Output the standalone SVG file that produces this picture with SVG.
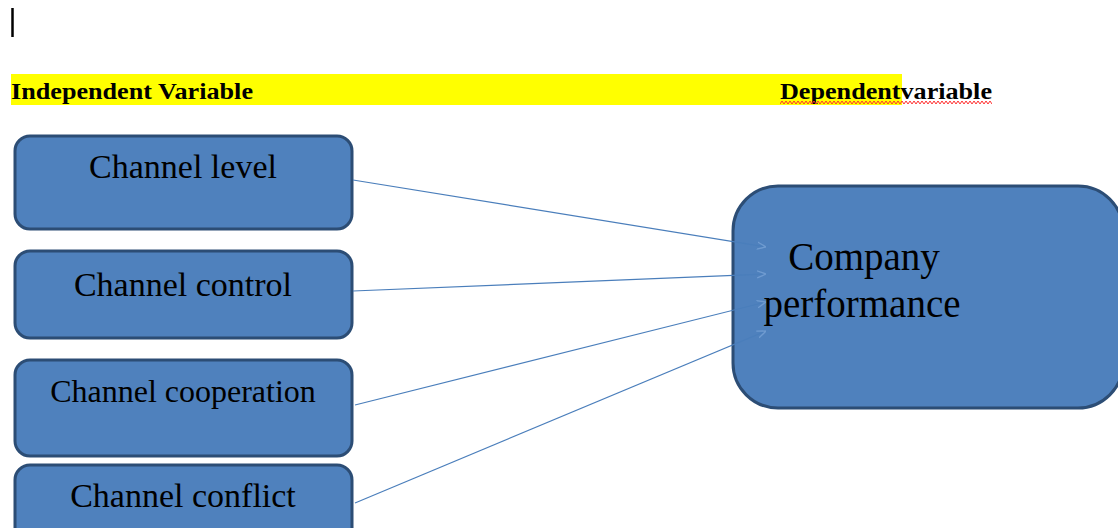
<svg xmlns="http://www.w3.org/2000/svg" width="1118" height="528" viewBox="0 0 1118 528">
<defs>
<style>
.box{fill:#4f81bd;stroke:#2c4d75;stroke-width:3}
.lbl{font-family:'Liberation Serif','Times New Roman',serif;fill:#000;text-anchor:middle}
.hdr{font-family:'Liberation Serif','Times New Roman',serif;font-weight:bold;font-size:23px;fill:#000}
.conn{stroke:#4a7ebb;stroke-width:1.2;fill:none}
</style>
<pattern id="wave" x="780" y="100" width="4" height="5" patternUnits="userSpaceOnUse">
<polyline points="0,4 2,1 4,4" fill="none" stroke="#ff3030" stroke-width="1"/>
</pattern>
<marker id="arr" viewBox="0 0 10 10" refX="10" refY="5" markerWidth="9" markerHeight="9" markerUnits="userSpaceOnUse" orient="auto">
<path d="M0,1 L10,5 L0,9" fill="none" stroke="#6f9bd0" stroke-width="1.5"/>
</marker>
</defs>
<rect width="1118" height="528" fill="#fff"/>
<line x1="12.5" y1="8" x2="12.5" y2="37" stroke="#000" stroke-width="2.5"/>
<g id="header">
<rect x="11" y="74" width="891" height="31" fill="#ffff00"/>
<text class="hdr" font-family="Liberation Serif, serif" x="11" y="99" textLength="242" lengthAdjust="spacingAndGlyphs">Independent Variable</text>
<text class="hdr" font-family="Liberation Serif, serif" x="780" y="99" textLength="212" lengthAdjust="spacingAndGlyphs">Dependentvariable</text>
<rect x="780" y="100" width="212" height="5" fill="url(#wave)"/>
</g>
<g id="n1">
<rect class="box" x="15" y="136" width="337" height="93" rx="15"/>
<text class="lbl" font-family="Liberation Serif, serif" x="183" y="178" font-size="34">Channel level</text>
</g>
<g id="n2">
<rect class="box" x="15" y="251" width="337" height="87" rx="15"/>
<text class="lbl" font-family="Liberation Serif, serif" x="183" y="296" font-size="34">Channel control</text>
</g>
<g id="n3">
<rect class="box" x="15" y="360" width="337" height="96" rx="15"/>
<text class="lbl" font-family="Liberation Serif, serif" x="183" y="402" font-size="32">Channel cooperation</text>
</g>
<g id="n4">
<rect class="box" x="15" y="465" width="337" height="80" rx="15"/>
<text class="lbl" font-family="Liberation Serif, serif" x="183" y="507" font-size="34">Channel conflict</text>
</g>
<g id="target">
<rect class="box" x="733" y="186" width="390" height="222" rx="45"/>
<text class="lbl" font-family="Liberation Serif, serif" x="864" y="270" font-size="39">Company</text>
<text class="lbl" font-family="Liberation Serif, serif" x="862" y="317" font-size="39">performance</text>
</g>
<g id="connectors">
<line class="conn" x1="353" y1="180" x2="766" y2="247" marker-end="url(#arr)"/>
<line class="conn" x1="353" y1="291" x2="766" y2="274" marker-end="url(#arr)"/>
<line class="conn" x1="355" y1="405" x2="766" y2="302" marker-end="url(#arr)"/>
<line class="conn" x1="355" y1="503" x2="766" y2="331" marker-end="url(#arr)"/>
</g>
</svg>
